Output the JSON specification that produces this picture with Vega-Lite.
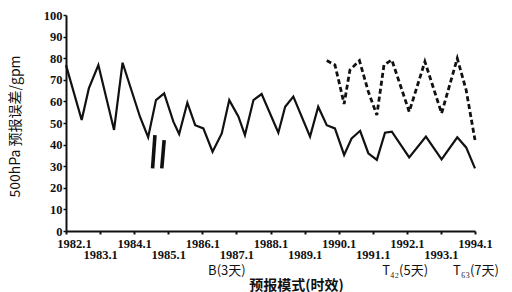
{
  "$schema": "https://vega.github.io/schema/vega-lite/v6.json",
  "width": 409,
  "height": 216,
  "autosize": {"type": "none"},
  "padding": {"left": 66, "top": 15, "right": 37, "bottom": 61},
  "background": "white",
  "config": {
    "view": {"stroke": null},
    "font": "Liberation Serif",
    "axis": {"grid": false, "domainColor": "#111", "domainWidth": 2, "tickColor": "#111", "labelColor": "#111", "titleColor": "#111", "labelFont": "Liberation Serif", "titleFont": "Noto Sans CJK SC"},
    "axisY": {"values": [0,10,20,30,40,50,60,70,80,90,100], "labelFontSize": 12.5, "labelFontWeight": "bold", "labelPadding": 1, "tickSize": 3, "tickWidth": 1.5, "labelOverlap": false}
  },
  "datasets": {
    "solid": [
      {"year": 1982.0, "err": 76.8}, {"year": 1982.46, "err": 51.4}, {"year": 1982.67, "err": 66},
      {"year": 1982.95, "err": 76.8}, {"year": 1983.41, "err": 46.8}, {"year": 1983.66, "err": 77.9},
      {"year": 1984.17, "err": 52.9}, {"year": 1984.41, "err": 43.4}, {"year": 1984.64, "err": 60.6},
      {"year": 1984.88, "err": 63.7}, {"year": 1985.15, "err": 50.6}, {"year": 1985.32, "err": 44.9},
      {"year": 1985.56, "err": 59.4}, {"year": 1985.79, "err": 49}, {"year": 1986.03, "err": 47.5},
      {"year": 1986.30, "err": 36.7}, {"year": 1986.57, "err": 45.2}, {"year": 1986.79, "err": 60.6},
      {"year": 1987.06, "err": 52.9}, {"year": 1987.25, "err": 44.4}, {"year": 1987.50, "err": 60.6},
      {"year": 1987.74, "err": 63.4}, {"year": 1988.23, "err": 45.5}, {"year": 1988.43, "err": 57.5},
      {"year": 1988.67, "err": 62.2}, {"year": 1989.16, "err": 43.7}, {"year": 1989.40, "err": 57.5},
      {"year": 1989.65, "err": 49}, {"year": 1989.89, "err": 47.5}, {"year": 1990.16, "err": 35.2},
      {"year": 1990.38, "err": 42.9}, {"year": 1990.63, "err": 46.4}, {"year": 1990.87, "err": 36},
      {"year": 1991.12, "err": 32.9}, {"year": 1991.36, "err": 45.5}, {"year": 1991.56, "err": 46},
      {"year": 1992.07, "err": 34.1}, {"year": 1992.56, "err": 43.7}, {"year": 1993.02, "err": 33.2},
      {"year": 1993.48, "err": 43.4}, {"year": 1993.74, "err": 38.7}, {"year": 1994.0, "err": 29}
    ],
    "dashed": [
      {"year": 1989.65, "err": 78.9}, {"year": 1989.89, "err": 76.9}, {"year": 1990.02, "err": 68.4},
      {"year": 1990.16, "err": 58.8}, {"year": 1990.33, "err": 74.5}, {"year": 1990.61, "err": 78.9},
      {"year": 1990.87, "err": 64.5}, {"year": 1991.12, "err": 53.7}, {"year": 1991.33, "err": 76.9},
      {"year": 1991.56, "err": 79.2}, {"year": 1992.07, "err": 55.2}, {"year": 1992.53, "err": 78.4},
      {"year": 1993.02, "err": 54.5}, {"year": 1993.48, "err": 79.9}, {"year": 1993.74, "err": 65.3},
      {"year": 1994.0, "err": 42.1}
    ],
    "breaks": [
      {"x1": 1984.61, "x2": 1984.54, "y1": 44.4, "y2": 29},
      {"x1": 1984.88, "x2": 1984.81, "y1": 42.1, "y2": 29}
    ],
    "notes": [
      {"year": 1986.72, "err": -18.5, "label": "B(3天)"},
      {"year": 1991.95, "err": -18.5, "label": "T₄₂(5天)"},
      {"year": 1994.03, "err": -18.5, "label": "T₆₃(7天)"}
    ]
  },
  "resolve": {"axis": {"x": "independent"}},
  "layer": [
    {
      "data": {"name": "solid"},
      "mark": {"type": "line", "color": "#111", "strokeWidth": 2.2},
      "encoding": {
        "x": {"field": "year", "type": "quantitative", "scale": {"domain": [1982, 1994], "nice": false, "zero": false},
          "axis": {"orient": "bottom", "values": [1982,1983,1984,1985,1986,1987,1988,1989,1990,1991,1992,1993,1994],
            "labelExpr": "datum.value % 2 == 0 ? format(datum.value,'d') + '.1' : ''",
            "labelOffset": {"condition": {"test": "datum.value == 1982", "value": 8}, "value": 0},
            "labelFontSize": 12.5, "labelFontWeight": "bold", "labelPadding": 3, "tickSize": 3, "tickWidth": 2, "labelBaseline": "top",
            "labelFlush": false, "labelOverlap": false,
            "title": "预报模式(时效)", "titleFontSize": 14, "titleFontWeight": "bold", "titleX": 230, "titleY": 54, "titleAlign": "center", "titleBaseline": "middle"}},
        "y": {"field": "err", "type": "quantitative", "scale": {"domain": [0, 100], "nice": false},
          "axis": {"values": [0,10,20,30,40,50,60,70,80,90,100], "labelOverlap": false,
            "title": "500hPa 预报误差/gpm", "titleFontSize": 14, "titleFontWeight": "normal", "titleX": -51, "titleY": 111, "titleAlign": "center", "titleBaseline": "middle", "titleAngle": -90}}
      }
    },
    {
      "data": {"name": "dashed"},
      "mark": {"type": "line", "color": "#111", "strokeWidth": 2.8, "strokeDash": [5, 3]},
      "encoding": {
        "x": {"field": "year", "type": "quantitative",
          "axis": {"orient": "bottom", "values": [1983,1985,1987,1989,1991,1993],
            "labelExpr": "format(datum.value,'d') + '.1'",
            "labelFontSize": 12.5, "labelFontWeight": "bold", "labelPadding": 17, "ticks": false, "domain": false, "labelBaseline": "top",
            "labelFlush": false, "labelOverlap": false, "title": null}},
        "y": {"field": "err", "type": "quantitative",
          "axis": {"values": [0,10,20,30,40,50,60,70,80,90,100], "labelOverlap": false,
            "title": "500hPa 预报误差/gpm", "titleFontSize": 14, "titleFontWeight": "normal", "titleX": -51, "titleY": 111, "titleAlign": "center", "titleBaseline": "middle", "titleAngle": -90}}
      }
    },
    {
      "data": {"name": "breaks"},
      "mark": {"type": "rule", "color": "#111", "strokeWidth": 3.6},
      "encoding": {
        "x": {"field": "x1", "type": "quantitative", "axis": null},
        "x2": {"field": "x2"},
        "y": {"field": "y1", "type": "quantitative",
          "axis": {"values": [0,10,20,30,40,50,60,70,80,90,100], "labelOverlap": false,
            "title": "500hPa 预报误差/gpm", "titleFontSize": 14, "titleFontWeight": "normal", "titleX": -51, "titleY": 111, "titleAlign": "center", "titleBaseline": "middle", "titleAngle": -90}},
        "y2": {"field": "y2"}
      }
    },
    {
      "data": {"name": "notes"},
      "mark": {"type": "text", "color": "#111", "fontSize": 13, "font": "Noto Sans CJK SC", "align": "center", "baseline": "middle"},
      "encoding": {
        "x": {"field": "year", "type": "quantitative", "axis": null},
        "y": {"field": "err", "type": "quantitative",
          "axis": {"values": [0,10,20,30,40,50,60,70,80,90,100], "labelOverlap": false,
            "title": "500hPa 预报误差/gpm", "titleFontSize": 14, "titleFontWeight": "normal", "titleX": -51, "titleY": 111, "titleAlign": "center", "titleBaseline": "middle", "titleAngle": -90}},
        "text": {"field": "label"}
      }
    }
  ]
}
